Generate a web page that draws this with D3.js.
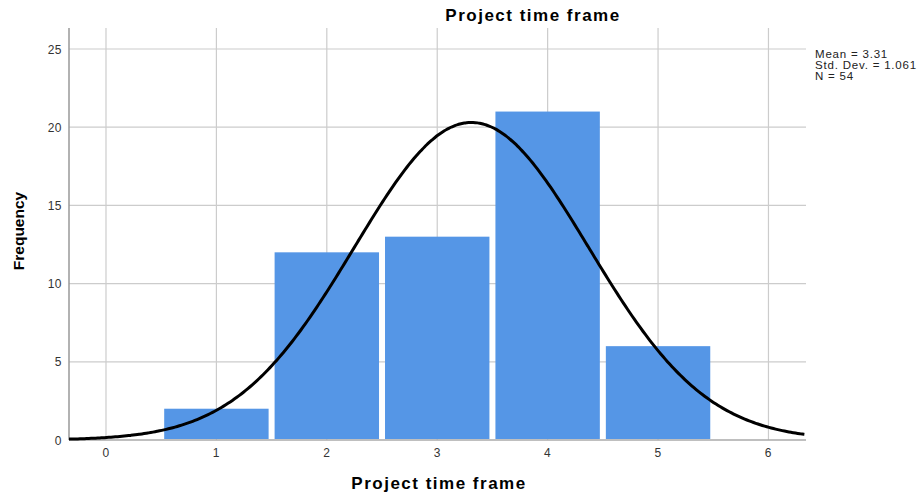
<!DOCTYPE html>
<html>
<head>
<meta charset="utf-8">
<script src="https://cdn.jsdelivr.net/npm/d3@7"></script>
<style>
  body { margin: 0; background: #fff; }
  text { font-family: "Liberation Sans", Arial, sans-serif; }
</style>
</head>
<body>
<div id="chart"></div>
<script>
// Histogram data
var categories = [1, 2, 3, 4, 5];
var frequencies = [2, 12, 13, 21, 6];
var xTicks = [0, 1, 2, 3, 4, 5, 6];
var yTicks = [0, 5, 10, 15, 20, 25];
var statsLines = ["Mean = 3.31", "Std. Dev. = 1.061", "N = 54"];
var mean = 3.31, sd = 1.061, n = 54;

var width = 922, height = 495;
var plot = { left: 69, right: 806, top: 28, bottom: 440 };

var svg = d3.select("#chart").append("svg")
  .attr("width", width)
  .attr("height", height);

var x = d3.scaleLinear().domain([-0.335, 6.34]).range([plot.left, plot.right]);
var y = d3.scaleLinear().domain([0, 25]).range([plot.bottom, 49]);

// Grid lines
svg.append("g").selectAll("line.v")
  .data(xTicks).enter().append("line")
  .attr("x1", function(d) { return x(d); })
  .attr("x2", function(d) { return x(d); })
  .attr("y1", plot.top).attr("y2", plot.bottom)
  .attr("stroke", "#cccccc").attr("stroke-width", 1.2);

svg.append("g").selectAll("line.h")
  .data(yTicks.slice(1)).enter().append("line")
  .attr("x1", plot.left).attr("x2", plot.right)
  .attr("y1", function(d) { return y(d); })
  .attr("y2", function(d) { return y(d); })
  .attr("stroke", "#cccccc").attr("stroke-width", 1.2);

// Bars (small white gap between bins)
var gap = 3;
svg.append("g").selectAll("rect")
  .data(categories).enter().append("rect")
  .attr("x", function(d) { return x(d - 0.5) + gap; })
  .attr("width", function(d) { return x(d + 0.5) - x(d - 0.5) - 2 * gap; })
  .attr("y", function(d, i) { return y(frequencies[i]); })
  .attr("height", function(d, i) { return y(0) - y(frequencies[i]) - 1; })
  .attr("fill", "#5596e6");

// Axis lines
svg.append("line")
  .attr("x1", plot.left).attr("x2", plot.left)
  .attr("y1", plot.top).attr("y2", plot.bottom)
  .attr("stroke", "#999999").attr("stroke-width", 1.5);
svg.append("line")
  .attr("x1", plot.left).attr("x2", plot.right)
  .attr("y1", plot.bottom).attr("y2", plot.bottom)
  .attr("stroke", "#aaaaaa").attr("stroke-width", 1.5);

// Normal curve fitted from mean / sd / n (bin width 1)
var curveX = d3.range(-0.335, 6.341, 0.02);
var line = d3.line()
  .x(function(d) { return x(d); })
  .y(function(d) {
    var z = (d - mean) / sd;
    return y(n / (sd * Math.sqrt(2 * Math.PI)) * Math.exp(-0.5 * z * z));
  })
  .curve(d3.curveBasis);
svg.append("path")
  .datum(curveX)
  .attr("d", line)
  .attr("fill", "none")
  .attr("stroke", "#000")
  .attr("stroke-width", 3);

// Tick labels
svg.append("g").selectAll("text")
  .data(xTicks).enter().append("text")
  .attr("x", function(d) { return x(d); })
  .attr("y", 457)
  .attr("text-anchor", "middle")
  .attr("font-size", 12)
  .attr("letter-spacing", 0.5)
  .attr("fill", "#333")
  .text(function(d) { return d; });

svg.append("g").selectAll("text")
  .data(yTicks).enter().append("text")
  .attr("x", 62)
  .attr("y", function(d) { return y(d) + 4.5; })
  .attr("text-anchor", "end")
  .attr("font-size", 12)
  .attr("letter-spacing", 0.5)
  .attr("fill", "#333")
  .text(function(d) { return d; });

// Titles
svg.append("text")
  .attr("x", 533).attr("y", 21)
  .attr("text-anchor", "middle")
  .attr("font-size", 17).attr("font-weight", "bold")
  .attr("letter-spacing", 1.5)
  .text("Project time frame");

svg.append("text")
  .attr("x", 439).attr("y", 489)
  .attr("text-anchor", "middle")
  .attr("font-size", 17).attr("font-weight", "bold")
  .attr("letter-spacing", 1.5)
  .text("Project time frame");

svg.append("text")
  .attr("transform", "translate(24,231) rotate(-90)")
  .attr("text-anchor", "middle")
  .attr("font-size", 15.5).attr("font-weight", "bold")
  .text("Frequency");

// Stats box
svg.append("g").selectAll("text")
  .data(statsLines).enter().append("text")
  .attr("x", 815)
  .attr("y", function(d, i) { return 58 + i * 11; })
  .attr("font-size", 11.5)
  .attr("letter-spacing", 0.8)
  .attr("fill", "#222")
  .text(function(d) { return d; });
</script>
</body>
</html>
